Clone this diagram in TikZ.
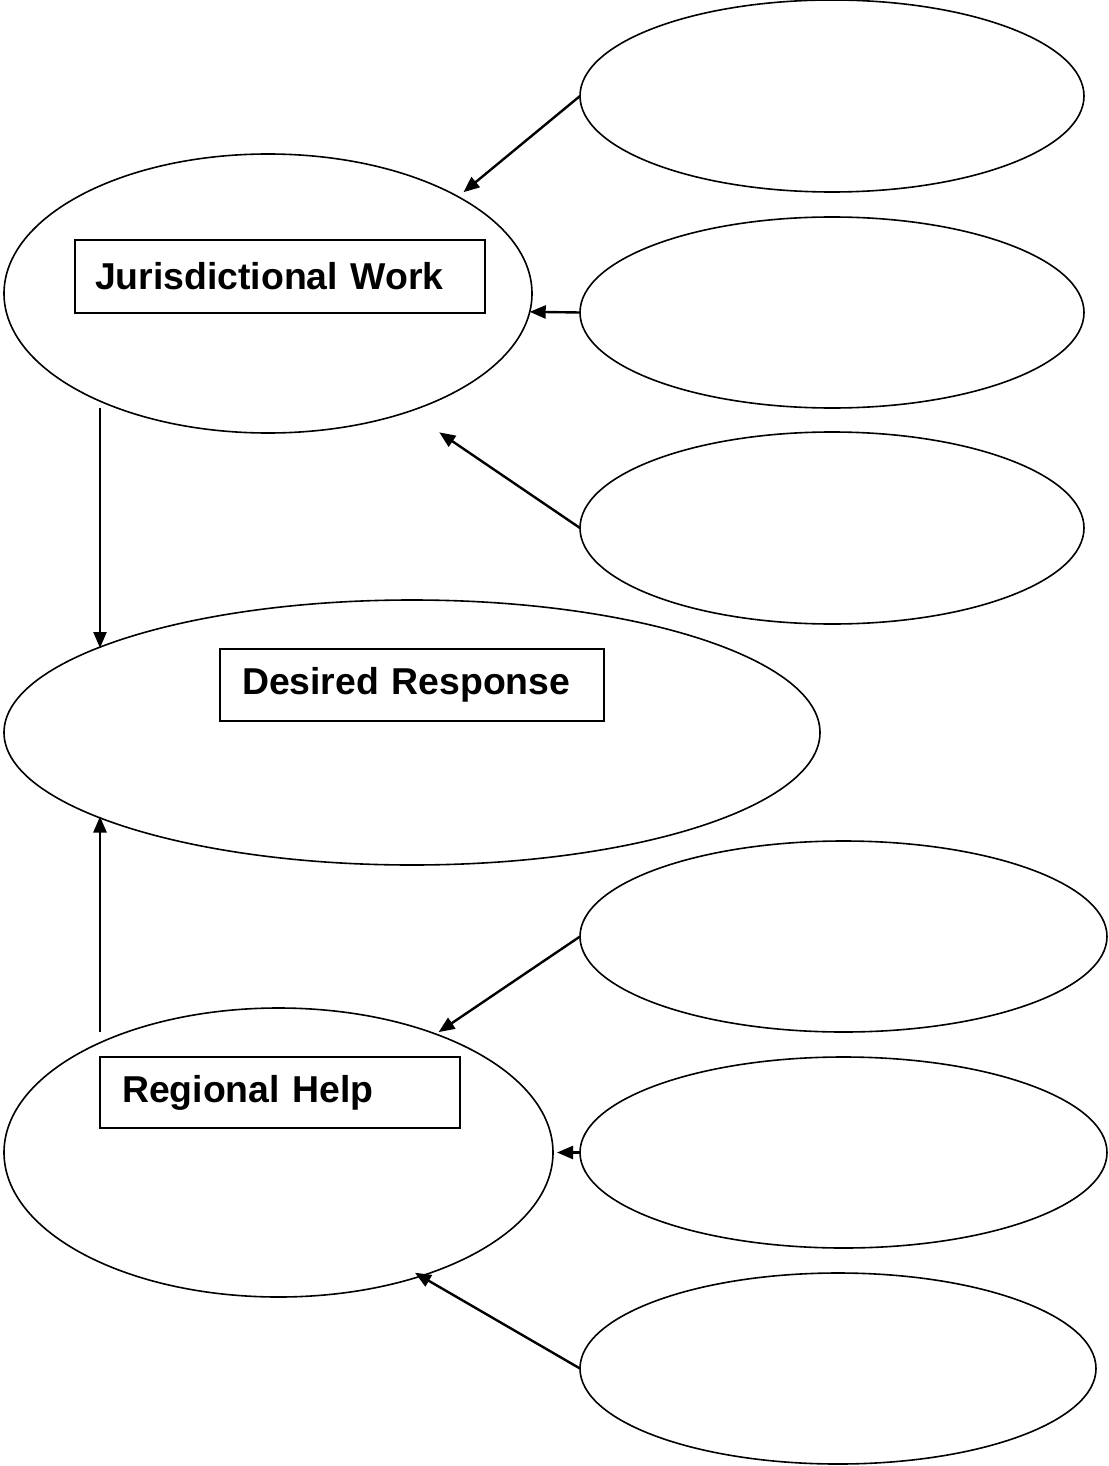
\documentclass[tikz,border=0pt]{standalone}
\usepackage{fontspec}
\setmainfont{Liberation Sans}
\usetikzlibrary{shapes.geometric,arrows.meta,calc}
\begin{document}
\begin{tikzpicture}[x=0.5pt,y=-0.5pt,
  oval/.style={ellipse,draw,line width=0.8pt,inner sep=0pt,outer sep=0pt},
  arr/.style={line width=1.2pt,-{Triangle[length=8pt,width=6.5pt]}},
  lbl/.style={rectangle,draw,line width=1pt,align=left,inner ysep=0pt,
    font=\fontsize{18.7}{22}\selectfont\bfseries}]
\useasboundingbox (0,0) rectangle (1108,1466);
% ovals
\node[oval,minimum width=252pt,minimum height=96pt] (e1) at (832,96) {};
\node[oval,minimum width=252pt,minimum height=95.5pt] (e2) at (832,312.5) {};
\node[oval,minimum width=252pt,minimum height=96pt] (e3) at (832,528) {};
\node[oval,minimum width=264pt,minimum height=139.5pt] (jw) at (268,293.5) {};
\node[oval,minimum width=408pt,minimum height=132.5pt] (dr) at (412,732.5) {};
\node[oval,minimum width=263.5pt,minimum height=95.5pt] (e4) at (843.5,936.5) {};
\node[oval,minimum width=263.5pt,minimum height=95.5pt] (e5) at (843.5,1152.5) {};
\node[oval,minimum width=274.5pt,minimum height=144.5pt] (rh) at (278.5,1152.5) {};
\node[oval,minimum width=258pt,minimum height=95.5pt] (e6) at (838,1368.5) {};
% labels
\node[lbl,inner xsep=10pt,text width=185pt,minimum height=36.5pt] (jwl) at (280,276.5) {Jurisdictional Work};
\node[lbl,inner xsep=11pt,text width=170pt,minimum height=36pt] (drl) at (412,685) {Desired Response};
\node[lbl,inner xsep=11pt,text width=158pt,minimum height=35.5pt] (rhl) at (280,1092.5) {Regional Help};
% connectors
\draw[arr,shorten >=3.5pt] (e1.west) -- (jw.27.7);
\draw[arr] (e2.west) -- (jw.-4.4);
\draw[arr,shorten >=18.5pt] (e3.west) -- (jw.-40.8);
\draw[arr] ($(jw.center)+(-168,114.5)$) -- ($(dr.center)+(-168-144,-84.5)$);
\draw[arr] ($(rh.center)+(-178.5,-120.5)$) -- ($(dr.center)+(-312,84)$);
\draw[arr,shorten >=1.75pt] (e4.west) -- (rh.37.54);
\draw[arr,shorten >=2pt] (e5.west) -- (rh.east);
\draw[arr,shorten >=-3.3pt] (e6.west) -- (rh.-41.4);
\end{tikzpicture}
\end{document}
